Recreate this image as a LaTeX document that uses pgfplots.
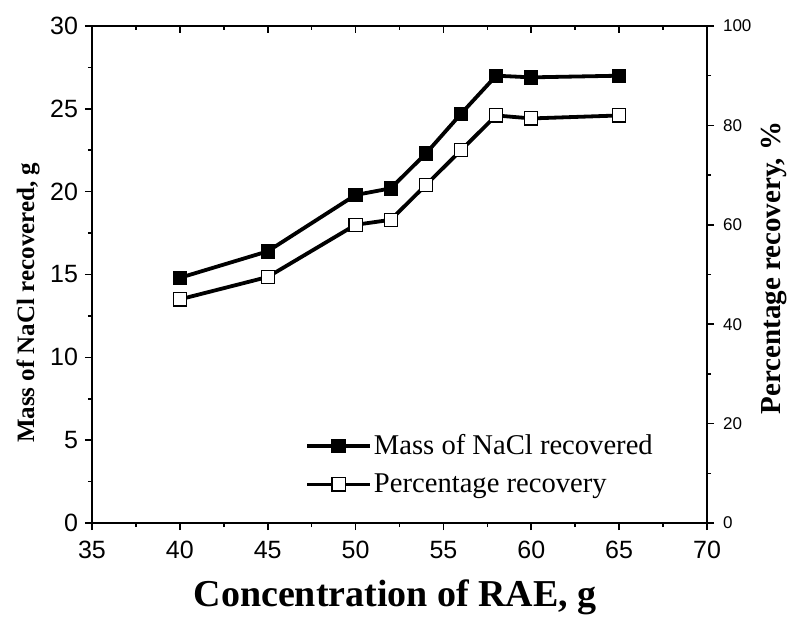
\documentclass[border=0pt]{standalone}
\usepackage{fontspec}
\setmainfont{Liberation Serif}
\newfontfamily\arial{Liberation Sans}
\usepackage{pgfplots}
\pgfplotsset{compat=1.18}

\pgfplotsset{common/.style={
  width=307.5pt,height=248.5pt,scale only axis,
  xmin=35,xmax=70,
  /pgf/number format/assume math mode=true,
  axis line style={line width=1pt},
  major tick length=3.5pt, minor tick length=2pt,
  every tick/.style={black, line width=0.8pt},
  clip=false,
  at={(0,0)}, anchor=south west,
}}
\pgfplotsset{massstyle/.style={black, line width=1.9pt, mark=square*, mark size=3.3pt, mark options={solid,fill=black,line width=0.6pt}}}
\pgfplotsset{pctstyle/.style={black, line width=1.9pt, mark=square*, mark size=3.3pt, mark options={solid,fill=white,line width=0.6pt}}}

\begin{document}
\begin{tikzpicture}
\useasboundingbox (-46pt,-52pt) rectangle (350pt,261.5pt);
% main axis (left y)
\begin{axis}[common,
  ymin=0, ymax=30,
  xtick={35,40,...,70}, ytick={0,5,...,30},
  minor x tick num=1, minor y tick num=1,
  tick align=outside, tick pos=left,
  tick label style={font=\arial\fontsize{12.5}{12.5}\selectfont},
  xticklabel style={yshift=-2pt},
  xlabel={\textbf{Concentration of RAE, g}},
  xlabel style={font=\fontsize{19}{19}\selectfont, at={(axis description cs:0.493,-0.169)}, anchor=base},
  ylabel={\textbf{Mass of NaCl recovered, g}},
  ylabel style={font=\fontsize{12.5}{12.5}\selectfont, at={(axis description cs:-0.104,0.443)}, anchor=center},
]
\addplot[massstyle] coordinates {
  (40,14.8) (45,16.4) (50,19.8) (52,20.2) (54,22.3) (56,24.7) (58,27.0) (60,26.9) (65,27.0)
};
\end{axis}
% right axis
\begin{axis}[common,
  ymin=0, ymax=100,
  ytick={0,20,...,100}, minor y tick num=1,
  axis x line=none, axis y line*=right,
  tick align=outside,
  yticklabel style={font=\arial\fontsize{8.5}{8.5}\selectfont, xshift=1pt},
  ylabel={\textbf{Percentage recovery, \%}},
  ylabel style={font=\fontsize{14.5}{14.5}\selectfont, at={(axis description cs:1.109,0.513)}, anchor=center},
  legend style={draw=none, fill=none, at={(axis description cs:0.346,0.183)}, anchor=north west,
    font=\fontsize{14.3}{14.3}\selectfont, inner sep=0pt, row sep=6pt,
    nodes={inner sep=1pt}},
  legend cell align=left,
  legend image code/.code={\draw[#1,mark repeat=2,mark phase=2] plot coordinates {(0pt,0pt)(15.75pt,0pt)(31.5pt,0pt)};},
]
\addlegendimage{massstyle}
\addlegendentry{Mass of NaCl recovered}
\addplot[pctstyle] coordinates {
  (40,45) (45,49.5) (50,60) (52,61) (54,68) (56,75) (58,82) (60,81.4) (65,82)
};
\addlegendentry{Percentage recovery}
\end{axis}
% top ticks (inside)
\begin{axis}[common,
  ymin=0, ymax=1,
  xtick={35,40,...,70}, minor x tick num=1,
  axis y line=none, axis x line*=top,
  tick align=inside, xticklabels={},
]
\end{axis}
\end{tikzpicture}
\end{document}
